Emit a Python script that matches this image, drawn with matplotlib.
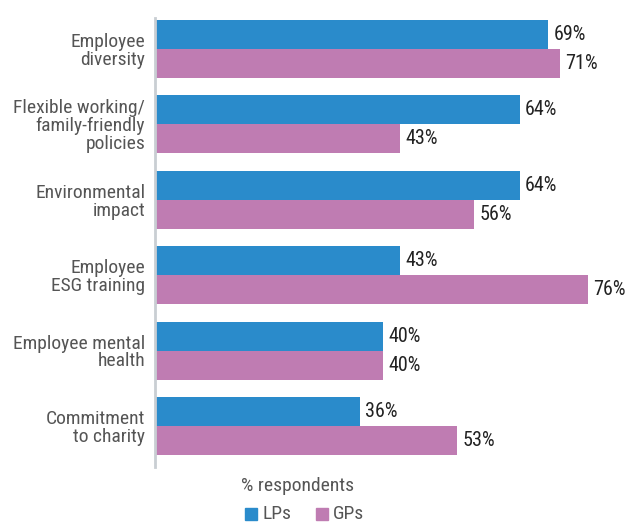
import matplotlib
matplotlib.use("Agg")
import matplotlib.pyplot as plt
from matplotlib import font_manager as fm

names = {f.name for f in fm.fontManager.ttflist}
fam = [n for n in ["Liberation Sans Narrow", "DejaVu Sans Condensed", "Roboto Condensed"] if n in names] + ["DejaVu Sans"]
plt.rcParams['font.family'] = fam

categories = ["Employee\ndiversity", "Flexible working/\nfamily-friendly\npolicies",
              "Environmental\nimpact", "Employee\nESG training",
              "Employee mental\nhealth", "Commitment\nto charity"]
lps = [69, 64, 64, 43, 40, 36]
gps = [71, 43, 56, 76, 40, 53]
series_names = ["LPs", "GPs"]
blue = "#2a8bcb"
pink = "#bf7cb2"

W, H = 626, 522
fig = plt.figure(figsize=(W/100, H/100), dpi=100)
ax_left, ax_right, ax_top, ax_bot = 155, 622, 18, 467
ax = fig.add_axes([ax_left/W, 1-ax_bot/H, (ax_right-ax_left)/W, (ax_bot-ax_top)/H])

step = 75.4
bh = 29/step
ys = list(range(len(categories)))
ax.barh([y - bh/2 for y in ys], lps, height=bh, color=blue, align='center')
ax.barh([y + bh/2 for y in ys], gps, height=bh, color=pink, align='center')
xmax = (ax_right-ax_left)/5.7
ax.set_xlim(0, xmax)
ax.set_ylim(5 + 41/step, -31/step)

for y, v in zip(ys, lps):
    ax.text(v + 0.9, y - bh/2, f"{v}%", va='center', ha='left', fontsize=14.5, color="#222222")
for y, v in zip(ys, gps):
    ax.text(v + 0.9, y + bh/2, f"{v}%", va='center', ha='left', fontsize=14.5, color="#222222")

ax.set_yticks(ys)
ax.set_yticklabels(categories, fontsize=14, color="#555555", linespacing=0.98)
ax.tick_params(axis='y', length=0, pad=7)
ax.set_xticks([])
for s in ["top", "right", "bottom"]:
    ax.spines[s].set_visible(False)
ax.spines["left"].set_color("#c9ced3")
ax.spines["left"].set_linewidth(2)

fig.text(298/W, 1-486/H, "% respondents", ha='center', va='center', fontsize=14, color="#555555")
# legend
from matplotlib.patches import Rectangle
for xs, col, name in [(245, blue, series_names[0]), (316, pink, series_names[1])]:
    fig.patches.append(Rectangle((xs/W, 1-520/H), 12/W, 12/H, transform=fig.transFigure, color=col))
    fig.text((xs+17)/W, 1-514/H, name, ha='left', va='center', fontsize=14, color="#555555")

fig.savefig("out.png", dpi=100)
